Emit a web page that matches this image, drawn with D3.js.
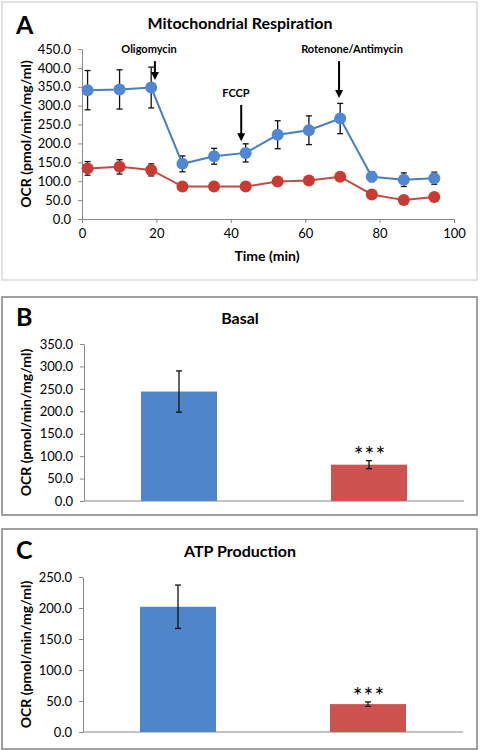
<!DOCTYPE html>
<html><head><meta charset="utf-8">
<script src="https://cdn.jsdelivr.net/npm/d3@7"></script>
<style>body{margin:0;background:#fff}svg{display:block}text{font-family:Lato,"Open Sans",sans-serif}</style>
</head><body>
<svg id="c" width="481" height="750"></svg>
<script>
// ---- data ----
const timeMin = [1.5, 10.1, 18.6, 27.0, 35.5, 44.0, 52.6, 61.0, 69.4, 77.9, 86.5, 94.7];
const blueOCR = [341, 343, 348, 146, 166, 175, 223, 235, 266, 112, 104, 108];
const blueErr = [52, 52, 54, 21, 21, 24, 37, 38, 40, 13, 18, 16];
const redOCR  = [134, 138, 130, 86, 86, 86, 99, 102, 112, 65, 50, 58];
const redErr  = [18, 19, 16, 4, 4, 4, 5, 6, 6, 4, 4, 4];
const injLabels = ["Oligomycin", "FCCP", "Rotenone/Antimycin"];
const injTime   = [19.6, 42.8, 69.1];
const injFrom   = [418, 302, 418];
const injTo     = [368, 206, 320];
const barGroups = ["Control", "Treated"];
const basalVals = [244, 81];
const basalErr  = [46, 9];
const atpVals   = [202, 45];
const atpErr    = [35, 3.5];
const yTicksA = [0,50,100,150,200,250,300,350,400,450];
const xTicksA = [0,20,40,60,80,100];
const yTicksB = [0,50,100,150,200,250,300,350];
const yTicksC = [0,50,100,150,200,250];

const BLUE_LINE="#4a7ebb", BLUE_MK="#4f87d3", RED_LINE="#be4b48", RED_MK="#c93a33";
const BAR_BLUE="#4f85c9", BAR_RED="#cc5350", AXIS="#888";
const svg=d3.select("#c");
const fmt=d3.format(".1f");

function yLabel(g,x,y,size){
  g.append("text").attr("transform",`translate(${x},${y}) rotate(-90)`).attr("text-anchor","middle")
   .attr("font-size",size).attr("font-weight","bold").text("OCR (pmol/min/mg/ml)");
}
function styleAxis(a){
  a.selectAll("path,line").attr("stroke",AXIS).attr("stroke-width",1);
  a.selectAll("text").attr("fill","#000").attr("font-size",13);
}

// ---- Panel A ----
const A=svg.append("g");
A.append("rect").attr("x",2).attr("y",2).attr("width",475).attr("height",278).attr("fill","none").attr("stroke","#cfcfcf").attr("stroke-width",1.2);
A.append("text").attr("x",16).attr("y",34).attr("font-size",25).attr("font-weight","bold").text("A");
A.append("text").attr("x",240).attr("y",29).attr("text-anchor","middle").attr("font-size",16).attr("font-weight","bold").text("Mitochondrial Respiration");
const xA=d3.scaleLinear().domain([0,100]).range([82,454]);
const yA=d3.scaleLinear().domain([0,450]).range([219,49]);
const ayA=A.append("g").attr("transform","translate(82,0)").call(d3.axisLeft(yA).tickValues(yTicksA).tickFormat(fmt).tickSize(4).tickSizeOuter(0));
const axA=A.append("g").attr("transform","translate(0,219)").call(d3.axisBottom(xA).tickValues(xTicksA).tickSize(4).tickSizeOuter(0).tickPadding(6));
styleAxis(ayA);styleAxis(axA);
ayA.selectAll("text").attr("dx",-4);
A.append("text").attr("x",267).attr("y",261).attr("text-anchor","middle").attr("font-size",14).attr("font-weight","bold").text("Time (min)");
yLabel(A,31,134,14);

function series(vals,errs,lineC,mkC){
  const d=timeMin.map((t,i)=>({t,v:vals[i],e:errs[i]}));
  const eb=A.append("g").attr("stroke","#111").attr("stroke-width",1.3);
  d.forEach(p=>{
    const x=xA(p.t);
    eb.append("line").attr("x1",x).attr("x2",x).attr("y1",yA(p.v+p.e)).attr("y2",yA(p.v-p.e));
    eb.append("line").attr("x1",x-3).attr("x2",x+3).attr("y1",yA(p.v+p.e)).attr("y2",yA(p.v+p.e));
    eb.append("line").attr("x1",x-3).attr("x2",x+3).attr("y1",yA(p.v-p.e)).attr("y2",yA(p.v-p.e));
  });
  A.append("path").datum(d).attr("fill","none").attr("stroke",lineC).attr("stroke-width",2)
   .attr("d",d3.line().x(p=>xA(p.t)).y(p=>yA(p.v)));
  A.append("g").selectAll("circle").data(d).join("circle").attr("cx",p=>xA(p.t)).attr("cy",p=>yA(p.v)).attr("r",6).attr("fill",mkC);
}
series(redOCR,redErr,RED_LINE,RED_MK);
series(blueOCR,blueErr,BLUE_LINE,BLUE_MK);

injLabels.forEach((lab,i)=>{
  const x=xA(injTime[i]), y1=yA(injFrom[i]), y2=yA(injTo[i]);
  A.append("line").attr("x1",x).attr("x2",x).attr("y1",y1).attr("y2",y2-7).attr("stroke","#000").attr("stroke-width",2);
  A.append("path").attr("d",`M${x-4},${y2-8}L${x+4},${y2-8}L${x},${y2}Z`).attr("fill","#000");
});
A.append("text").attr("x",149).attr("y",53).attr("text-anchor","middle").attr("font-size",11).attr("font-weight","bold").text(injLabels[0]);
A.append("text").attr("x",236).attr("y",97).attr("text-anchor","middle").attr("font-size",11).attr("font-weight","bold").text(injLabels[1]);
A.append("text").attr("x",352).attr("y",53).attr("text-anchor","middle").attr("font-size",11).attr("font-weight","bold").text(injLabels[2]);

// ---- Bar panels ----
function barPanel(top,h,letter,title,vals,errs,ticks,yMax,y0,y1,xL,xR,letterY,titleY){
  const G=svg.append("g");
  G.append("rect").attr("x",2).attr("y",top).attr("width",475).attr("height",h).attr("fill","none").attr("stroke","#808080").attr("stroke-width",1.5);
  G.append("text").attr("x",16).attr("y",letterY).attr("font-size",25).attr("font-weight","bold").text(letter);
  G.append("text").attr("x",240).attr("y",titleY).attr("text-anchor","middle").attr("font-size",16).attr("font-weight","bold").text(title);
  const x=d3.scaleBand().domain(barGroups).range([xL,xR]).paddingInner(0.6).paddingOuter(0.3);
  const y=d3.scaleLinear().domain([0,yMax]).range([y0,y1]);
  const ay=G.append("g").attr("transform",`translate(${xL},0)`).call(d3.axisLeft(y).tickValues(ticks).tickFormat(fmt).tickSize(4).tickSizeOuter(0));
  styleAxis(ay); ay.selectAll("text").attr("dx",-4);
  G.append("line").attr("x1",xL).attr("x2",xR).attr("y1",y0).attr("y2",y0).attr("stroke",AXIS);
  const cols=[BAR_BLUE,BAR_RED];
  barGroups.forEach((g,i)=>{
    G.append("rect").attr("x",x(g)).attr("width",x.bandwidth()).attr("y",y(vals[i])).attr("height",y0-y(vals[i])).attr("fill",cols[i]);
    const cx=x(g)+x.bandwidth()/2;
    const eg=G.append("g").attr("stroke","#111").attr("stroke-width",1.3);
    eg.append("line").attr("x1",cx).attr("x2",cx).attr("y1",y(vals[i]+errs[i])).attr("y2",y(vals[i]-errs[i]));
    [vals[i]+errs[i],vals[i]-errs[i]].forEach(v=>eg.append("line").attr("x1",cx-3).attr("x2",cx+3).attr("y1",y(v)).attr("y2",y(v)));
    if(i===1) G.append("text").attr("x",cx+1).attr("y",y(vals[i]+errs[i])+2).attr("text-anchor","middle")
      .attr("font-family","DejaVu Sans").attr("font-size",23).attr("letter-spacing",1).text("***");
  });
  yLabel(G,31,(y0+y1)/2,14);
}
barPanel(297,218,"B","Basal",basalVals,basalErr,yTicksB,350,501,344,84,464,326,324);
barPanel(529,220,"C","ATP Production",atpVals,atpErr,yTicksC,250,732,577,83,463,559,557);
</script>
</body></html>
